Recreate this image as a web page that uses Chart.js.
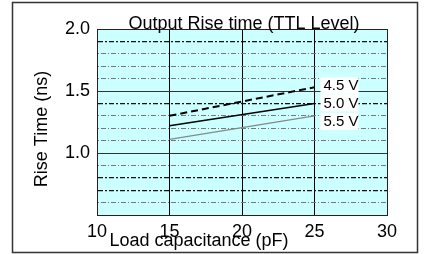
<!DOCTYPE html>
<html>
<head>
<meta charset="utf-8">
<script src="https://cdn.jsdelivr.net/npm/chart.js@4/dist/chart.umd.min.js"></script>
<style>
  html, body { margin: 0; padding: 0; background: #fff; }
  #wrap { width: 425px; height: 254px; }
</style>
</head>
<body>
<div id="wrap"><canvas id="riseChart" width="425" height="254"></canvas></div>
<script>
// values
const loadCap = [15, 25];
const rise45 = [1.30, 1.53];
const rise50 = [1.22, 1.40];
const rise55 = [1.11, 1.30];
const seriesNames = ['4.5 V', '5.0 V', '5.5 V'];
const yLabelTicks = [1.0, 1.5, 2.0];

const FONT = '"Liberation Sans", Arial, sans-serif';

// light cyan plot background + outer frame + titles
const backdrop = {
    id: 'backdrop',
    beforeDraw(chart) {
        const { ctx, chartArea: a } = chart;
        ctx.save();
        ctx.fillStyle = '#ccffff';
        ctx.fillRect(a.left, a.top, a.right - a.left, a.bottom - a.top);
        ctx.restore();
    },
    afterDraw(chart) {
        const { ctx, chartArea: a } = chart;
        ctx.save();
        ctx.strokeStyle = '#222';
        ctx.lineWidth = 1;
        ctx.strokeRect(a.left + 0.5, a.top + 0.5, a.right - a.left, a.bottom - a.top);
        ctx.lineWidth = 1.5;
        ctx.strokeStyle = '#333';
        ctx.strokeRect(12.5, 2.5, 405, 250);

        ctx.fillStyle = '#000';
        ctx.font = '18px ' + FONT;
        ctx.textAlign = 'center';
        ctx.textBaseline = 'alphabetic';
        ctx.fillText('Output Rise time (TTL Level)', 244, 29);
        ctx.fillText('Load capacitance (pF)', 199, 246);

        ctx.translate(42, 129);
        ctx.rotate(-Math.PI / 2);
        ctx.textBaseline = 'middle';
        ctx.fillText('Rise Time (ns)', 0, 0);
        ctx.restore();
    }
};

// boxed voltage labels to the right of each line's end
const endLabels = {
    id: 'endLabels',
    afterDatasetsDraw(chart) {
        const { ctx } = chart;
        const shift = [-2, -1, 5];
        ctx.save();
        ctx.font = '15px ' + FONT;
        ctx.textBaseline = 'middle';
        ctx.textAlign = 'left';
        chart.data.datasets.forEach((ds, i) => {
            const pts = chart.getDatasetMeta(i).data;
            const p = pts[pts.length - 1];
            const y = p.y + shift[i];
            ctx.fillStyle = '#fff';
            ctx.fillRect(p.x + 6, y - 8, 38, 17);
            ctx.fillStyle = '#000';
            ctx.fillText(ds.label, p.x + 9, y + 1);
        });
        ctx.restore();
    }
};

const isMajor = v => Math.abs(v * 2 - Math.round(v * 2)) < 1e-6;
const heavyMinor = [1.9, 1.4, 0.8, 0.7];
const isHeavy = v => heavyMinor.some(h => Math.abs(h - v) < 1e-6);

new Chart(document.getElementById('riseChart'), {
    type: 'line',
    data: {
        labels: loadCap,
        datasets: [
            { label: seriesNames[0], data: rise45, borderColor: '#000', borderWidth: 2, borderDash: [7, 4] },
            { label: seriesNames[1], data: rise50, borderColor: '#000', borderWidth: 1.5 },
            { label: seriesNames[2], data: rise55, borderColor: '#888', borderWidth: 1.2 }
        ].map(d => Object.assign(d, {
            data: d.data.map((v, i) => ({ x: loadCap[i], y: v })),
            pointRadius: 0,
            fill: false,
            tension: 0
        }))
    },
    options: {
        responsive: false,
        animation: false,
        layout: { padding: { left: 30, right: 38, top: 29, bottom: 0 } },
        plugins: { legend: { display: false }, tooltip: { enabled: false }, title: { display: false } },
        scales: {
            x: {
                type: 'linear',
                min: 10,
                max: 30,
                afterFit: s => { s.height = 39; },
                ticks: { stepSize: 5, padding: 6, color: '#000', font: { family: FONT, size: 18 } },
                grid: { color: '#000', lineWidth: 1, drawTicks: false },
                border: { color: '#222' }
            },
            y: {
                min: 0.5,
                max: 2.0,
                afterFit: s => { s.width = 67; },
                ticks: {
                    stepSize: 0.1,
                    padding: 7,
                    color: '#000',
                    autoSkip: false,
                    font: { family: FONT, size: 18 },
                    callback: v => (yLabelTicks.some(t => Math.abs(t - v) < 1e-6) ? v.toFixed(1) : '')
                },
                grid: {
                    drawTicks: false,
                    color: c => (isMajor(c.tick.value) ? '#333' : (isHeavy(c.tick.value) ? '#111' : '#777')),
                    lineWidth: c => (isMajor(c.tick.value) ? 1 : (isHeavy(c.tick.value) ? 1.3 : 1))
                },
                border: {
                    color: '#222',
                    dash: c => {
                        if (!c.tick) return [];
                        const v = c.tick.value;
                        if (isMajor(v)) return [];
                        return isHeavy(v) ? [5, 2, 2, 2] : [1, 2, 5, 2];
                    }
                }
            }
        }
    },
    plugins: [backdrop, endLabels]
});
</script>
</body>
</html>
